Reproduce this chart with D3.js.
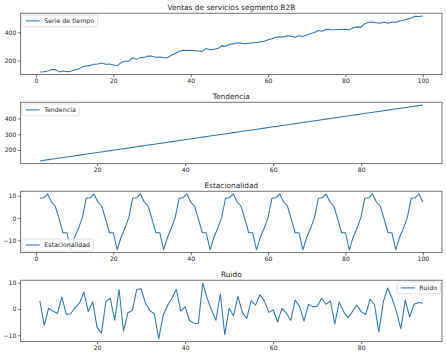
<!DOCTYPE html>
<html><head><meta charset="utf-8">
<script src="https://cdn.jsdelivr.net/npm/d3@7"></script>
<style>
body{margin:0;background:#fff}
svg{display:block}
text{font-family:"DejaVu Sans",sans-serif;fill:#262626}
</style>
</head><body><svg id="c" width="446" height="354"></svg>
<script>
// ---- data ----
const serieX0 = 1;   // series index starts at 1
const serie = [121, 122, 127, 137, 137, 121,
  127.5, 122.3, 125.6, 133.8, 141.1, 156.3, 162.2, 166.8, 174.6, 177,
  183.4, 174.3, 176, 170.3, 165, 186.3, 195.7, 196.2, 220.6, 209,
  221.5, 223.1, 233.3, 231.8, 224.3, 225.6, 221.2, 220.9, 238, 250.6,
  266.1, 273.8, 271, 273.3, 270.3, 267.6, 265.4, 284.9, 276, 280.8,
  285, 303.9, 301.1, 315.4, 318, 326.2, 322.2, 318.2, 323, 325.4,
  326.1, 333.1, 336.9, 346.6, 354.8, 364.3, 367.7, 365.9, 375.8, 371.6,
  364, 374.5, 370.5, 379.8, 391.1, 397.7, 411.6, 407.1, 420.9, 418.1,
  417.8, 418.5, 419, 420.5, 416.3, 431.4, 437.6, 435.9, 460, 469.7,
  471.2, 466.9, 462.6, 471.7, 463.3, 472.2, 469.7, 478.7,
  484, 492, 500, 512, 511, 514];

const tendenciaX0 = 7; // trend starts at index 7
const tendencia = [131.0, 135.1, 139.1, 143.2, 147.3, 151.4, 155.4, 159.5, 163.6, 167.6,
  171.7, 175.8, 179.8, 183.9, 188.0, 192.1, 196.1, 200.2, 204.3, 208.3,
  212.4, 216.5, 220.6, 224.6, 228.7, 232.8, 236.8, 240.9, 245.0, 249.0,
  253.1, 257.2, 261.3, 265.3, 269.4, 273.5, 277.5, 281.6, 285.7, 289.8,
  293.8, 297.9, 302.0, 306.0, 310.1, 314.2, 318.2, 322.3, 326.4, 330.5,
  334.5, 338.6, 342.7, 346.7, 350.8, 354.9, 358.9, 363.0, 367.1, 371.2,
  375.2, 379.3, 383.4, 387.4, 391.5, 395.6, 399.6, 403.7, 407.8, 411.9,
  415.9, 420.0, 424.1, 428.1, 432.2, 436.3, 440.3, 444.4, 448.5, 452.6,
  456.6, 460.7, 464.8, 468.8, 472.9, 477.0, 481.0, 485.1];

const estacionalidadX0 = 1;
const estacionalidad = [
  8.9, 9.1, 10.8, 7.2, 5.3, -0.5, -6.6, -6.6, -14.3, -8.6, -4.5, 0.3,
  8.9, 9.1, 10.8, 7.2, 5.3, -0.5, -6.6, -6.6, -14.3, -8.6, -4.5, 0.3,
  8.9, 9.1, 10.8, 7.2, 5.3, -0.5, -6.6, -6.6, -14.3, -8.6, -4.5, 0.3,
  8.9, 9.1, 10.8, 7.2, 5.3, -0.5, -6.6, -6.6, -14.3, -8.6, -4.5, 0.3,
  8.9, 9.1, 10.8, 7.2, 5.3, -0.5, -6.6, -6.6, -14.3, -8.6, -4.5, 0.3,
  8.9, 9.1, 10.8, 7.2, 5.3, -0.5, -6.6, -6.6, -14.3, -8.6, -4.5, 0.3,
  8.9, 9.1, 10.8, 7.2, 5.3, -0.5, -6.6, -6.6, -14.3, -8.6, -4.5, 0.3,
  8.9, 9.1, 10.8, 7.2, 5.3, -0.5, -6.6, -6.6, -14.3, -8.6, -4.5, 0.3,
  8.9, 9.1, 10.8, 7.2];

const ruidoX0 = 7;
const ruido = [3.1, -6.2, 0.3, -0.8, -1.7, 4.6, -2.1, -1.8, 0.5, 2.2,
  6.4, -1, 2.8, -7, -9.2, 2.8, 4.1, -4.3, 7.4, -8.4,
  -1.4, -0.6, 7.4, 7.7, 2.2, -0.6, -1.8, -11.4, -2.5, 1.3,
  4.1, 7.5, -0.8, 0.8, -4.4, -5.4, -5.5, 9.9, 4.1, -0.4,
  -4.3, 5.7, -9.8, 0.3, -2.6, 4.8, -1.3, -3.6, 3.2, 1.5,
  5.4, 3.1, -1.3, -0.4, -4.9, 0.3, -1.7, -4.3, 3.4, 0.9,
  -4.6, 1.8, 0.9, 1, 4.1, 1.8, 3.1, -5.7, 2.6, -1,
  -3.4, -1, 1.5, -1, -2.1, 3.7, 1.8, -8.8, 2.6, 8,
  4.1, -1, -7.5, 3.4, -3, 1.8, 2.5, 2.2];

const titles = ["Ventas de servicios segmento B2B", "Tendencia", "Estacionalidad", "Ruido"];
const legendLabels = ["Serie de tiempo", "Tendencia", "Estacionalidad", "Ruido"];
const xTicks1 = [0, 20, 40, 60, 80, 100];
const xTicks2 = [20, 40, 60, 80];
const yTicksSerie = [200, 400];
const yTicksTend = [200, 300, 400];
const yTicksEst = [-10, 0, 10];
const yTicksRuido = [-10, 0, 10];

// ---- drawing ----
const svg = d3.select("#c");
const left = 20.7, right = 442, H = 61.5;
const tops = [13.2, 102.2, 191.2, 280.2];
const color = "#2a7ab5";
const fmt = d3.format("d");

function pad(ext) { const r = ext[1] - ext[0]; return [ext[0] - 0.05 * r, ext[1] + 0.05 * r]; }

function panel(i, vals, x0, xt, yt, legendPos) {
  const top = tops[i], bottom = top + H;
  const pts = vals.map((v, k) => [x0 + k, v]);
  const x = d3.scaleLinear().domain(pad(d3.extent(pts, d => d[0]))).range([left, right]);
  const y = d3.scaleLinear().domain(pad(d3.extent(vals))).range([bottom, top]);
  const g = svg.append("g");

  const ax = g.append("g").attr("transform", `translate(0,${bottom})`)
    .call(d3.axisBottom(x).tickValues(xt).tickFormat(fmt).tickSize(2.6).tickPadding(1.8));
  const ay = g.append("g").attr("transform", `translate(${left},0)`)
    .call(d3.axisLeft(y).tickValues(yt).tickFormat(fmt).tickSize(2.6).tickPadding(1.8));
  [ax, ay].forEach(a => {
    a.select(".domain").remove();
    a.selectAll("line").attr("stroke", "#333").attr("stroke-width", 0.7);
    a.selectAll("text").attr("font-size", 6.1).attr("fill", "#262626").attr("font-family", "DejaVu Sans");
  });

  g.append("path").datum(pts)
    .attr("fill", "none").attr("stroke", color).attr("stroke-width", 1.05)
    .attr("stroke-linejoin", "round")
    .attr("d", d3.line().x(d => x(d[0])).y(d => y(d[1])));

  g.append("rect").attr("x", left).attr("y", top).attr("width", right - left).attr("height", H)
    .attr("fill", "none").attr("stroke", "#3a3a3a").attr("stroke-width", 0.7);

  g.append("text").attr("x", (left + right) / 2).attr("y", top - 3.4)
    .attr("text-anchor", "middle").attr("font-size", 7.4).text(titles[i]);

  // legend
  const lg = g.append("g");
  const label = lg.append("text").attr("font-size", 6.3).text(legendLabels[i]);
  const tw = label.node().getComputedTextLength();
  const bw = 22.5 + tw + 3, bh = 11.8;
  let bx, by;
  if (legendPos === "ul") { bx = left + 1.5; by = top + 1.8; }
  else if (legendPos === "ll") { bx = left + 1.5; by = bottom - 1.8 - bh; }
  else { bx = right - 1.5 - bw; by = top + 1.8; }
  lg.insert("rect", "text").attr("x", bx).attr("y", by).attr("width", bw).attr("height", bh)
    .attr("rx", 1.5).attr("fill", "#fff").attr("fill-opacity", 0.8)
    .attr("stroke", "#d5d5d5").attr("stroke-width", 0.7);
  lg.append("line").attr("x1", bx + 3.5).attr("x2", bx + 17.5)
    .attr("y1", by + bh / 2).attr("y2", by + bh / 2)
    .attr("stroke", color).attr("stroke-width", 1.05);
  label.attr("x", bx + 22).attr("y", by + bh / 2 + 2.2);
}

panel(0, serie, serieX0, xTicks1, yTicksSerie, "ul");
panel(1, tendencia, tendenciaX0, xTicks2, yTicksTend, "ul");
panel(2, estacionalidad, estacionalidadX0, xTicks1, yTicksEst, "ll");
panel(3, ruido, ruidoX0, xTicks2, yTicksRuido, "ur");
</script>
</body></html>
